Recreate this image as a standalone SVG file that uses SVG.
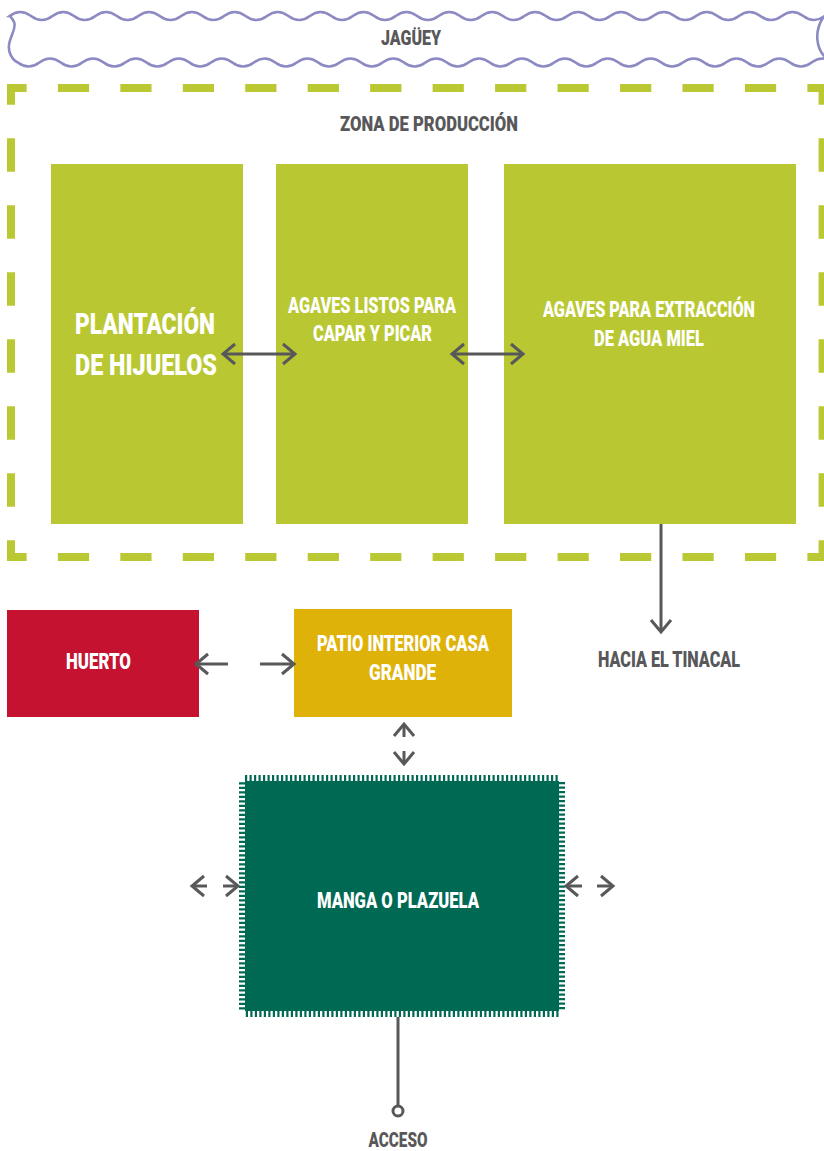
<svg xmlns="http://www.w3.org/2000/svg" width="824" height="1151" viewBox="0 0 824 1151">
<defs>
<style>
.t{font-family:Roboto,"Liberation Sans Narrow","DejaVu Sans Condensed",sans-serif;font-weight:900;text-anchor:middle}
.w{fill:#ffffff}
.g{fill:#58585a}
.lime{fill:#b9c832}
.dash{stroke:#bac933;stroke-width:8;fill:none}
.con{stroke:#58585a;stroke-width:3;fill:none}
</style>
<marker id="chev" markerUnits="userSpaceOnUse" viewBox="-14 -12 18 24" refX="0" refY="0" markerWidth="18" markerHeight="24" orient="auto-start-reverse" overflow="visible">
<path d="M-12,-10 L0,0 L-12,10" fill="none" stroke="#58585a" stroke-width="3"/>
</marker>
</defs>
<rect width="824" height="1151" fill="#ffffff"/>

<g id="jaguey">
<path d="M9.6,16 Q20.3,8 31.05,16 T52.5,16 T73.95,16 T95.4,16 T116.85,16 T138.3,16 T159.75,16 T181.2,16 T202.65,16 T224.1,16 T245.55,16 T267,16 T288.45,16 T309.9,16 T331.35,16 T352.8,16 T374.25,16 T395.7,16 T417.15,16 T438.6,16 T460.05,16 T481.5,16 T502.95,16 T524.4,16 T545.85,16 T567.3,16 T588.75,16 T610.2,16 T631.65,16 T653.1,16 T674.55,16 T696,16 T717.45,16 T738.9,16 T760.35,16 T781.8,16 T803.25,16 T824.7,16 C815,26 812,52 833,62.5 Q822.3,54.5 811.55,62.5 T790.1,62.5 T768.65,62.5 T747.2,62.5 T725.75,62.5 T704.3,62.5 T682.85,62.5 T661.4,62.5 T639.95,62.5 T618.5,62.5 T597.05,62.5 T575.6,62.5 T554.15,62.5 T532.7,62.5 T511.25,62.5 T489.8,62.5 T468.35,62.5 T446.9,62.5 T425.45,62.5 T404,62.5 T382.55,62.5 T361.1,62.5 T339.65,62.5 T318.2,62.5 T296.75,62.5 T275.3,62.5 T253.85,62.5 T232.4,62.5 T210.95,62.5 T189.5,62.5 T168.05,62.5 T146.6,62.5 T125.15,62.5 T103.7,62.5 T82.25,62.5 T60.8,62.5 T39.35,62.5 T17.9,62.5 C12,60 8,52 9,45 C10,36 17,28 14,22 C12,18 10,16 9.6,16 Z" fill="#ffffff" stroke="#8c8ac3" stroke-width="2.6"/>
<text class="t g" x="411" y="45" font-size="20" textLength="60" lengthAdjust="spacingAndGlyphs">JAGÜEY</text>
</g>

<g id="zona-produccion">
<line class="dash" x1="7" y1="88" x2="826.6" y2="88" stroke-dasharray="31.23 31.23" stroke-dashoffset="11.6"/>
<line class="dash" x1="7" y1="557" x2="826.6" y2="557" stroke-dasharray="31.23 31.23" stroke-dashoffset="11.6"/>
<line class="dash" x1="11" y1="84" x2="11" y2="561" stroke-dasharray="33.5 33.5" stroke-dashoffset="12.75"/>
<line class="dash" x1="822.6" y1="84" x2="822.6" y2="561" stroke-dasharray="33.5 33.5" stroke-dashoffset="12.75"/>
<text class="t g" x="429" y="131" font-size="20" textLength="178" lengthAdjust="spacingAndGlyphs">ZONA DE PRODUCCIÓN</text>
</g>

<g id="plantacion">
<rect class="lime" x="51" y="164" width="192" height="360"/>
<text class="t w" x="145" y="334" font-size="30" textLength="140" lengthAdjust="spacingAndGlyphs">PLANTACIÓN</text>
<text class="t w" x="146" y="375" font-size="30" textLength="142" lengthAdjust="spacingAndGlyphs">DE HIJUELOS</text>
</g>

<g id="agaves-listos">
<rect class="lime" x="276" y="164" width="192" height="360"/>
<text class="t w" x="372" y="313" font-size="21.5" textLength="168" lengthAdjust="spacingAndGlyphs">AGAVES LISTOS PARA</text>
<text class="t w" x="372.5" y="341" font-size="21.5" textLength="119" lengthAdjust="spacingAndGlyphs">CAPAR Y PICAR</text>
</g>

<g id="agaves-extraccion">
<rect class="lime" x="504" y="164" width="292" height="360"/>
<text class="t w" x="649" y="317" font-size="21.5" textLength="212" lengthAdjust="spacingAndGlyphs">AGAVES PARA EXTRACCIÓN</text>
<text class="t w" x="649" y="346" font-size="21.5" textLength="110" lengthAdjust="spacingAndGlyphs">DE AGUA MIEL</text>
</g>

<g id="huerto">
<rect x="7" y="610" width="192" height="107" fill="#c41230"/>
<text class="t w" x="98.5" y="669" font-size="22" textLength="65" lengthAdjust="spacingAndGlyphs">HUERTO</text>
</g>

<g id="patio">
<rect x="294" y="609" width="218" height="108" fill="#dfb209"/>
<text class="t w" x="403" y="651" font-size="22.5" textLength="172" lengthAdjust="spacingAndGlyphs">PATIO INTERIOR CASA</text>
<text class="t w" x="402.5" y="680" font-size="22.5" textLength="67" lengthAdjust="spacingAndGlyphs">GRANDE</text>
</g>

<g id="tinacal">
<text class="t g" x="669" y="667" font-size="21.5" textLength="142" lengthAdjust="spacingAndGlyphs">HACIA EL TINACAL</text>
</g>

<g id="manga">
<rect x="245" y="781" width="314" height="230" fill="#006954" stroke="#006954" stroke-width="12" stroke-dasharray="2.2 2.3"/>
<rect x="245" y="781" width="314" height="230" fill="#006954"/>
<text class="t w" x="398" y="908" font-size="21.5" textLength="162" lengthAdjust="spacingAndGlyphs">MANGA O PLAZUELA</text>
</g>

<g id="acceso">
<circle cx="398" cy="1111" r="5" fill="#ffffff" stroke="#58585a" stroke-width="3"/>
<text class="t g" x="398" y="1147" font-size="21" textLength="59" lengthAdjust="spacingAndGlyphs">ACCESO</text>
</g>

<g id="connectors">
<path class="con" d="M223,354 H295" marker-start="url(#chev)" marker-end="url(#chev)"/>
<path class="con" d="M452,354 H523" marker-start="url(#chev)" marker-end="url(#chev)"/>
<path class="con" d="M661,524 V632" marker-end="url(#chev)"/>
<path class="con" d="M228,664 H196" marker-end="url(#chev)"/>
<path class="con" d="M260,664 H294" marker-end="url(#chev)"/>
<path class="con" d="M404,737 V724" marker-end="url(#chev)"/>
<path class="con" d="M404,751 V764" marker-end="url(#chev)"/>
<path class="con" d="M207,886 H192" marker-end="url(#chev)"/>
<path class="con" d="M223,886 H238" marker-end="url(#chev)"/>
<path class="con" d="M582,886 H566" marker-end="url(#chev)"/>
<path class="con" d="M597,886 H613" marker-end="url(#chev)"/>
<path class="con" d="M398,1017 V1106"/>
</g>
</svg>
